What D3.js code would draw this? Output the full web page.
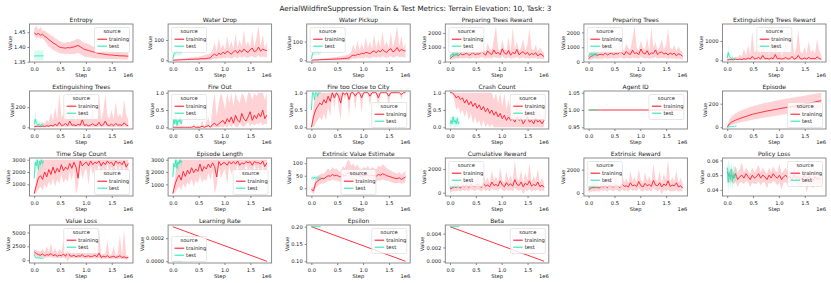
<!DOCTYPE html>
<html lang="en">
<head>
<meta charset="UTF-8" />
<title>AerialWildfireSuppression Train & Test Metrics</title>
<script src="https://cdn.jsdelivr.net/npm/d3@7"></script>
<style>
  body { margin: 0; background: #fff; }
  svg text { font-family: "DejaVu Sans", sans-serif; fill: #1a1a1a; }
</style>
</head>
<body>
<div id="chart"></div>
<script>
// steps: training runs 0 .. 1.82e6, test runs 0 .. 0.18e6
const TRAIN_END = 1.82e6, TEST_END = 0.18e6;
const xTicks = [0, 0.5e6, 1.0e6, 1.5e6];

// Entropy
const entropyTrain = [1.448,1.442,1.446,1.440,1.443,1.436,1.432,1.425,1.420,1.414,1.410,1.405,1.400,1.398,1.397,1.396,1.398,1.397,1.399,1.400,1.403,1.405,1.401,1.396,1.392,1.390,1.388,1.386,1.384,1.382,1.380,1.378,1.377,1.376,1.375,1.374,1.373,1.373,1.372,1.371,1.371,1.370,1.370,1.370,1.369,1.369];
const entropyTrainLo = [1.438,1.430,1.434,1.428,1.430,1.420,1.412,1.402,1.396,1.390,1.386,1.382,1.380,1.378,1.377,1.376,1.376,1.375,1.376,1.376,1.378,1.380,1.376,1.372,1.368,1.366,1.365,1.364,1.363,1.362,1.361,1.361,1.360,1.360,1.360,1.359,1.359,1.359,1.359,1.359,1.359,1.358,1.358,1.358,1.358,1.358];
const entropyTrainHi = [1.462,1.472,1.458,1.468,1.456,1.455,1.450,1.446,1.440,1.436,1.430,1.426,1.420,1.416,1.414,1.414,1.418,1.416,1.420,1.422,1.426,1.428,1.424,1.418,1.414,1.412,1.410,1.406,1.402,1.399,1.396,1.393,1.391,1.389,1.388,1.387,1.386,1.385,1.384,1.383,1.382,1.382,1.381,1.381,1.380,1.380];
const entropyTest = [1.370,1.370,1.370,1.370,1.370,1.370,1.370,1.370,1.370,1.370];
const entropyTestLo = [1.355,1.355,1.355,1.355,1.355,1.355,1.355,1.355,1.355,1.355];
const entropyTestHi = [1.388,1.388,1.388,1.388,1.388,1.388,1.388,1.388,1.388,1.388];
const entropyTicks = [1.35, 1.40, 1.45];

// Water Drop
const wdTrain = [0,1,1,2,2,3,3,4,4,5,5,6,5,7,8,7,9,10,12,25,30,22,35,28,40,32,45,38,30,42,48,35,50,40,55,45,38,52,60,42,48,65,45,55,50,48];
const wdTrainLo = [0,0,0,0,0,0,0,0,0,0,0,0,0,0,0,0,0,0,0,5,8,5,10,8,12,10,15,12,8,14,16,10,18,12,20,15,10,18,22,12,15,25,14,18,16,14];
const wdTrainHi = [2,4,5,6,7,8,9,10,12,15,14,18,16,20,22,25,28,30,35,50,90,45,110,55,80,50,120,60,95,55,130,60,100,65,150,70,95,60,140,65,110,170,70,125,60,90];
const wdTest = [5,30,40,35,45,38,42,36,44,40];
const wdTestLo = [0,15,25,20,30,22,28,20,30,25];
const wdTestHi = [10,45,55,50,60,52,56,50,58,55];
const wdTicks = [0, 100];

// Water Pickup
const wpTrain = [0,1,2,2,3,3,4,4,5,5,6,6,7,7,8,9,10,11,12,22,28,25,32,30,38,35,42,40,35,45,50,40,52,45,58,48,42,55,62,45,52,68,48,58,52,50];
const wpTrainLo = [0,0,0,0,0,0,0,0,0,0,0,0,0,0,0,0,0,0,0,6,9,7,11,9,13,11,16,13,10,15,17,12,19,14,21,16,12,19,23,13,16,26,15,19,17,15];
const wpTrainHi = [2,4,5,6,7,8,9,10,12,14,15,16,18,20,22,24,26,28,32,45,85,50,105,55,90,60,125,65,100,60,140,65,110,70,155,75,100,65,150,70,115,185,75,130,65,95];
const wpTest = [8,35,45,40,48,42,45,40,46,44];
const wpTestLo = [0,20,30,25,32,28,30,26,32,30];
const wpTestHi = [15,50,60,55,62,58,60,55,62,58];
const wpTicks = [0, 100];

// Preparing Trees Reward
const ptrTrain = [200,350,450,500,420,550,480,520,600,450,500,650,480,550,520,700,600,450,750,580,500,820,550,650,480,900,600,520,780,450,650,550,850,480,600,700,520,650,450,580,500,620,400,550,480,350];
const ptrTrainLo = [100,150,200,250,200,250,220,240,280,200,230,300,220,250,240,320,280,200,300,260,220,350,250,280,220,380,260,230,320,200,280,240,350,210,260,300,230,280,200,250,220,260,180,230,200,150];
const ptrTrainHi = [400,600,700,800,650,900,750,850,1000,700,800,1300,750,1000,800,1500,900,700,1300,900,800,1600,2500,900,750,1500,900,800,1700,700,2400,900,1400,750,1000,1600,800,1200,2300,900,800,1200,700,1000,750,600];
const ptrTest = [300,500,450,600,400,550,480,620,450,500];
const ptrTestLo = [100,300,250,350,200,300,250,380,250,300];
const ptrTestHi = [500,700,650,850,600,750,700,800,650,700];
const ptrTicks = [0, 1000, 2000];

// Preparing Trees
const ptTrain = [220,380,430,520,450,500,520,480,620,470,560,600,500,580,540,680,620,480,720,560,520,800,580,620,500,880,620,540,760,480,620,580,820,500,640,680,540,620,470,600,520,600,420,560,500,380];
const ptTrainLo = [120,160,190,260,210,240,230,230,290,210,240,290,230,260,250,310,290,210,290,270,230,340,260,270,230,370,270,240,310,210,270,250,340,220,270,290,240,270,210,260,230,250,190,240,210,160];
const ptTrainHi = [450,650,700,850,700,850,800,800,1050,750,850,1250,800,1050,850,1450,950,750,1250,950,850,1550,2450,950,800,1450,950,850,1650,750,2350,950,1350,800,1050,1550,850,1150,2250,950,850,1150,750,1050,800,650];
const ptTest = [350,550,500,620,420,580,500,600,480,520];
const ptTestLo = [150,320,280,380,220,330,280,360,260,320];
const ptTestHi = [550,750,700,850,620,780,720,820,680,720];
const ptTicks = [0, 1000, 2000];

// Extinguishing Trees Reward
const etrTrain = [20,30,40,25,50,35,60,40,80,50,120,60,200,70,90,150,60,250,80,100,60,120,80,300,70,100,60,90,140,70,80,200,60,100,250,80,70,120,60,150,80,100,70,180,90,60];
const etrTrainLo = [0,0,5,0,10,5,10,5,15,5,20,10,20,10,15,20,10,25,10,15,10,20,10,25,10,15,10,15,20,10,10,25,10,15,25,10,10,15,10,20,10,15,10,20,15,10];
const etrTrainHi = [60,100,120,80,200,150,300,200,600,250,800,300,1500,400,500,900,300,1200,400,600,300,700,400,1790,350,500,300,450,900,350,400,1300,300,600,1600,450,350,700,300,1000,400,550,350,1100,500,300];
const etrTest = [100,400,200,150,100,120,80,90,60,70];
const etrTestLo = [0,100,50,30,20,30,10,20,10,10];
const etrTestHi = [200,800,400,300,200,250,180,200,150,150];
const etrTicks = [0, 1000];

// Extinguishing Trees
const etTrain = [5,8,10,6,12,8,15,10,20,12,30,15,50,18,22,38,15,62,20,25,15,30,20,75,18,25,15,22,35,18,20,50,15,25,62,20,18,30,15,38,20,25,18,45,22,15];
const etTrainLo = [0,0,2,0,2,0,3,0,5,2,5,3,8,3,4,6,3,10,4,5,3,6,4,12,3,5,3,4,6,3,4,8,3,5,10,4,3,6,3,6,4,5,3,7,4,3];
const etTrainHi = [15,25,30,20,50,38,75,50,150,62,200,75,343,100,125,225,75,300,100,150,75,175,100,340,88,125,75,112,225,88,100,325,75,150,330,112,88,175,75,250,100,138,88,275,125,75];
const etTest = [30,80,40,30,25,30,20,25,15,18];
const etTestLo = [0,20,10,5,5,5,0,5,0,0];
const etTestHi = [60,170,100,70,60,65,50,55,40,45];
const etTicks = [0, 200];

// Fire Out
const foTrain = [0,0,0,0,0,0,0,0,0,0,0.02,0,0,0,0.03,0,0.02,0.05,0,0.08,0.12,0.05,0.1,0.15,0.2,0.1,0.25,0.15,0.3,0.12,0.35,0.2,0.15,0.4,0.25,0.18,0.3,0.45,0.2,0.35,0.25,0.4,0.3,0.5,0.25,0.35];
const foTrainLo = [0,0,0,0,0,0,0,0,0,0,0,0,0,0,0,0,0,0,0,0,0,0,0,0.02,0,0.05,0,0.08,0,0.1,0.02,0,0.12,0.05,0,0.08,0.15,0.02,0.1,0.05,0.12,0.08,0.15,0.05,0.1,0.08];
const foTrainHi = [0,0,0,0,0,0,0,0,0,0,0.1,0,0.05,0,0.2,0,0.15,0.3,0,0.6,1.0,0.3,0.7,1.0,0.8,0.5,1.0,0.7,1.0,0.6,1.0,0.8,0.7,1.0,0.9,0.7,1.0,1.0,0.8,1.0,0.9,1.0,1.0,1.0,0.8,1.0];
const foTest = [0,0.25,0.1,0.3,0.05,0.2,0.15,0.3,0.1,0.2];
const foTestLo = [0,0.1,0,0.15,0,0.05,0,0.1,0,0.05];
const foTestHi = [0,0.35,0.3,0.35,0.2,0.35,0.3,0.35,0.25,0.3];
const foTicks = [0, 0.5, 1.0];

// Fire too Close to City
const fcTrain = [0,0.3,0.5,0.6,0.7,0.65,0.8,0.7,0.9,0.75,1,0.85,1,0.9,0.7,1,0.95,1,0.8,1,1,0.9,1,1,0.85,1,1,1,0.9,1,1,1,0.85,1,1,1,1,0.9,1,1,1,1,1,0.95,1,1];
const fcTrainLo = [0,0,0.1,0.2,0.3,0.2,0.4,0.2,0.6,0.3,1,0.5,1,0.6,0.2,1,0.8,1,0.3,1,1,0.5,1,1,0.4,1,1,1,0.6,1,1,1,0.5,1,1,1,1,0.6,1,1,1,1,1,0.8,1,1];
const fcTrainHi = [0,0.6,0.9,1,1,1,1,1,1,1,1,1,1,1,1,1,1,1,1,1,1,1,1,1,1,1,1,1,1,1,1,1,1,1,1,1,1,1,1,1,1,1,1,1,1,1];
const fcTest = [0.5,1,1,0.8,1,1,0.9,1,1,1];
const fcTestLo = [0.5,1,1,0.6,1,1,0.8,1,1,1];
const fcTestHi = [0.5,1,1,1,1,1,1,1,1,1];
const fcTicks = [0, 0.5, 1.0];

// Crash Count
const ccTrain = [1,1,0.95,0.85,0.9,0.8,0.85,0.7,0.8,0.65,0.75,0.6,0.7,0.55,0.65,0.5,0.6,0.45,0.55,0.4,0.5,0.35,0.45,0.3,0.4,0.25,0.35,0.2,0.3,0.2,0.25,0.15,0.3,0.2,0.25,0.1,0.2,0.3,0.15,0.2,0.1,0.25,0.15,0.2,0.1,0.2];
const ccTrainLo = [1,1,0.8,0.5,0.6,0.4,0.5,0.3,0.5,0.2,0.4,0.1,0.3,0.1,0.2,0,0.2,0,0.1,0,0.1,0,0,0,0,0,0,0,0,0,0,0,0,0,0,0,0,0,0,0,0,0,0,0,0,0];
const ccTrainHi = [1,1,1,1,1,1,1,1,1,1,1,1,1,1,1,1,1,1,1,1,1,0.8,1,0.7,1,0.6,1,0.5,0.8,0.5,0.6,0.4,0.8,0.5,0.6,0.3,0.5,0.8,0.4,0.5,0.3,0.6,0.4,0.5,0.3,0.5];
const ccTest = [0.1,0.2,0.1,0.3,0.15,0.2,0.1,0.25,0.1,0.15];
const ccTestLo = [0,0,0,0.1,0,0,0,0.05,0,0];
const ccTestHi = [0.3,0.3,0.3,0.33,0.3,0.33,0.3,0.33,0.3,0.3];
const ccTicks = [0, 0.5, 1.0];

// Agent ID
const aiTrain = [1, 1];
const aiTest = [1, 1];
const aiTicks = [0.95, 1.0, 1.05];
const aiDomain = [0.945, 1.055];

// Episode
const epTrain = [0,28,42,52,60,67,74,80,86,92,98,104,110,114,118,122,126,130,134,138,141,144,148,151,154,158,161,164,167,170,173,176,179,182,185,188,191,197,200,203,206,210,214,218,222,226];
const epTrainLo = [0,10,18,25,30,35,40,44,48,52,56,60,64,67,70,73,76,79,82,85,88,91,94,97,100,103,106,109,112,115,118,121,124,127,130,133,136,139,142,145,148,151,154,157,160,163];
const epTrainHi = [0,65,90,105,118,128,137,145,152,159,165,171,177,182,187,192,197,201,205,209,213,217,221,225,229,232,235,238,241,244,247,250,253,256,259,262,265,268,271,274,277,280,284,287,290,293];
const epTest = [0,2,4,5,6,7,8,9,10,10];
const epTestLo = [0,1,3,4,5,6,7,8,9,9];
const epTestHi = [0,3,5,6,7,8,9,10,11,11];
const epTicks = [0, 200];

// Time Step Count
const tsTrain = [250,900,1500,1700,1400,2000,1600,2200,1800,2400,1900,2300,2000,2600,2100,2400,2200,2700,2300,2800,2400,1500,2900,2500,2700,2800,2500,2900,2600,2800,2700,2900,2500,2800,2600,2900,2700,2800,2500,2900,2700,2800,2600,2900,2400,2700];
const tsTrainLo = [190,300,600,800,500,1000,700,1200,900,1500,800,1400,1000,1800,1100,1500,1200,2000,1300,2200,200,900,2500,1400,2000,2300,900,2600,1800,2300,2000,2700,1500,2400,1800,2700,2000,2400,1500,2700,2000,2500,1800,2700,1500,2200];
const tsTrainHi = [300,1500,2500,3000,3000,3000,3000,3000,3000,3000,3000,3000,3000,3000,3000,3000,3000,3000,3000,3000,3000,3000,3000,3000,3000,3000,3000,3000,3000,3000,3000,3000,3000,3000,3000,3000,3000,3000,3000,3000,3000,3000,3000,3000,3000,3000];
const tsTest = [1500,2800,2500,3000,2200,2900,2600,3000,2700,2900];
const tsTestLo = [1400,2000,1800,2700,1500,2500,2000,2800,2200,2600];
const tsTestHi = [1600,3000,3000,3000,3000,3000,3000,3000,3000,3000];
const tsTicks = [1000, 2000, 3000];

// Episode Length
const elTrain = [260,950,1450,1750,1350,2050,1650,2150,1850,2350,1950,2250,2050,2650,2050,2450,2250,2650,2350,2750,2450,1600,2850,2550,2750,2750,2550,2850,2650,2850,2650,2900,2550,2750,2650,2850,2750,2850,2550,2850,2750,2750,2650,2900,2450,2750];
const elTrainLo = [200,320,580,850,520,1050,720,1150,950,1450,820,1350,1050,1750,1150,1450,1250,1950,1350,2150,250,900,2450,1450,1950,2250,950,2550,1850,2250,2050,2650,1550,2350,1850,2650,2050,2350,1550,2650,2050,2450,1850,2650,1550,2250];
const elTrainHi = [350,1600,2600,3000,3000,3000,3000,3000,3000,3000,3000,3000,3000,3000,3000,3000,3000,3000,3000,3000,3000,3000,3000,3000,3000,3000,3000,3000,3000,3000,3000,3000,3000,3000,3000,3000,3000,3000,3000,3000,3000,3000,3000,3000,3000,3000];
const elTest = [1600,2700,2400,3000,2300,2850,2650,3000,2750,2900];
const elTestLo = [1400,1900,1700,2700,1500,2400,2000,2800,2200,2600];
const elTestHi = [1700,3000,3000,3000,3000,3000,3000,3000,3000,3000];
const elTicks = [1000, 2000, 3000];

// Extrinsic Value Estimate
const eveTrain = [-5,-10,20,30,35,40,38,45,50,48,55,50,52,48,45,55,50,58,62,55,60,52,56,50,48,52,50,54,48,52,50,48,55,52,58,55,50,48,45,42,40,38,42,35,40,45];
const eveTrainLo = [-15,-24,0,10,15,20,18,25,30,28,35,30,32,28,25,30,30,35,38,32,35,30,32,30,28,30,30,32,28,30,30,28,32,30,35,32,30,28,25,22,20,20,22,18,20,25];
const eveTrainHi = [5,5,40,50,55,60,58,70,80,70,85,75,80,70,65,90,80,105,114,90,100,85,95,80,75,85,80,90,75,85,80,75,90,85,95,90,80,75,70,65,62,58,65,55,62,70];
const eveTest = [40,42,38,45,40,43,39,42,40,41];
const eveTestLo = [30,35,30,38,32,36,30,35,32,34];
const eveTestHi = [50,50,48,52,50,50,48,50,48,49];
const eveTicks = [0, 50, 100];

// Cumulative Reward
const crTrain = [300,400,500,450,550,400,600,500,650,450,700,550,500,750,600,450,800,550,650,500,900,600,700,550,1000,650,500,850,600,750,550,1100,700,600,900,500,800,650,1000,550,700,600,900,500,650,450];
const crTrainLo = [0,100,150,100,200,100,250,150,250,100,300,200,150,300,200,100,300,150,250,100,350,200,250,150,400,200,100,300,150,250,100,400,250,150,300,-130,250,150,300,100,200,150,300,100,200,100];
const crTrainHi = [600,700,900,750,1000,700,1100,800,1200,750,1400,900,800,1500,1000,750,1700,900,1300,800,1900,1000,1400,900,2100,1100,850,1800,1000,1500,900,2780,1200,1000,1900,850,1700,1100,2500,900,1400,1000,2000,850,1300,800];
const crTest = [400,550,450,600,500,700,450,650,550,600];
const crTestLo = [200,350,250,400,300,450,250,400,350,400];
const crTestHi = [600,750,650,850,700,900,650,850,750,800];
const crTicks = [0, 2000];

// Extrinsic Reward
const erTrain = [280,420,480,470,530,420,580,520,630,470,680,570,520,730,620,470,780,570,630,520,880,620,680,570,980,630,520,830,620,730,570,1080,680,620,880,520,780,630,1050,570,680,620,880,520,630,430];
const erTrainLo = [0,120,160,120,210,120,260,160,260,120,310,210,160,310,210,120,310,160,260,120,360,210,260,160,410,210,120,310,160,260,120,410,260,160,310,-100,260,160,310,120,210,160,310,120,210,120];
const erTrainHi = [580,720,880,770,980,720,1080,820,1180,770,1380,920,820,1480,1020,770,1680,920,1280,820,1880,1020,1380,920,2050,1120,870,1780,1020,1480,920,2500,1180,1020,1880,870,1680,1120,2850,920,1380,1020,1950,870,1280,820];
const erTest = [420,560,460,620,520,680,470,640,560,610];
const erTestLo = [220,360,260,420,320,440,270,410,360,410];
const erTestHi = [620,760,660,860,720,880,670,860,760,810];
const erTicks = [0, 2000];

// Policy Loss
const plTrain = [0.052,0.049,0.050,0.048,0.051,0.047,0.049,0.050,0.048,0.051,0.049,0.047,0.050,0.048,0.049,0.051,0.048,0.050,0.049,0.047,0.050,0.048,0.051,0.049,0.048,0.050,0.047,0.049,0.050,0.048,0.049,0.047,0.050,0.048,0.049,0.047,0.048,0.050,0.047,0.049,0.048,0.046,0.049,0.047,0.048,0.047];
const plTrainLo = [0.046,0.045,0.045,0.044,0.046,0.042,0.045,0.045,0.044,0.046,0.045,0.042,0.045,0.044,0.044,0.046,0.043,0.045,0.045,0.041,0.045,0.044,0.046,0.045,0.043,0.045,0.040,0.045,0.045,0.044,0.045,0.042,0.045,0.044,0.044,0.042,0.043,0.045,0.038,0.044,0.043,0.041,0.044,0.042,0.043,0.042];
const plTrainHi = [0.056,0.053,0.055,0.052,0.056,0.052,0.054,0.059,0.052,0.055,0.053,0.051,0.055,0.052,0.054,0.057,0.052,0.055,0.053,0.051,0.055,0.052,0.056,0.053,0.052,0.058,0.051,0.053,0.055,0.052,0.053,0.051,0.055,0.052,0.054,0.051,0.052,0.055,0.051,0.054,0.052,0.050,0.054,0.051,0.053,0.051];
const plTest = [0.055,0.045,0.052,0.047,0.054,0.046,0.051,0.048,0.050,0.049];
const plTestLo = [0.045,0.037,0.044,0.041,0.046,0.040,0.045,0.043,0.045,0.044];
const plTestHi = [0.056,0.0605,0.058,0.055,0.059,0.054,0.057,0.055,0.056,0.055];
const plTicks = [0.04, 0.05, 0.06];

// Value Loss
const vlTrain = [1500,1200,1000,900,1100,800,1000,900,1200,800,1000,700,900,800,1100,700,1600,800,700,900,600,800,700,1000,600,700,800,600,700,900,600,1300,500,700,600,800,500,600,700,500,600,800,500,600,400,500];
const vlTrainLo = [1000,800,600,500,600,400,500,500,600,400,500,350,450,400,500,350,-200,400,350,400,300,350,300,400,250,300,350,250,300,350,250,400,200,250,200,300,200,200,250,150,200,250,150,200,100,150];
const vlTrainHi = [2000,1800,1600,1500,2000,1400,2500,1500,3000,1300,2200,1200,2000,1500,3500,1200,6030,1500,1200,2500,1100,2000,1300,4000,1100,1200,2500,1000,1300,3000,1000,5500,900,1200,1100,3500,900,1000,2500,900,1100,4500,900,5500,800,900];
const vlTest = [1000,600,400,500,350,450,300,400,350,300];
const vlTestLo = [500,300,200,250,150,200,100,200,150,100];
const vlTestHi = [1500,1000,700,800,600,700,500,650,550,500];
const vlTicks = [0, 2500, 5000];

// Learning Rate, Epsilon, Beta (linear schedules)
const lrTrain = [0.0003, 0.0];
const lrTest = [0.0, 0.0];
const lrTicks = [0, 0.0002];
const epsTrain = [0.2, 0.1];
const epsTest = [0.2, 0.2];
const epsTicks = [0.10, 0.15, 0.20];
const betaTrain = [0.005, 0.0];
const betaTest = [0.005, 0.005];
const betaTicks = [0, 0.002, 0.004];

const panels = [
  { title: "Entropy", tr: entropyTrain, trLo: entropyTrainLo, trHi: entropyTrainHi, te: entropyTest, teLo: entropyTestLo, teHi: entropyTestHi, ticks: entropyTicks, fmt: ".2f", legend: "ur" },
  { title: "Water Drop", tr: wdTrain, trLo: wdTrainLo, trHi: wdTrainHi, te: wdTest, teLo: wdTestLo, teHi: wdTestHi, ticks: wdTicks, fmt: "d", legend: "ul" },
  { title: "Water Pickup", tr: wpTrain, trLo: wpTrainLo, trHi: wpTrainHi, te: wpTest, teLo: wpTestLo, teHi: wpTestHi, ticks: wpTicks, fmt: "d", legend: "ul" },
  { title: "Preparing Trees Reward", tr: ptrTrain, trLo: ptrTrainLo, trHi: ptrTrainHi, te: ptrTest, teLo: ptrTestLo, teHi: ptrTestHi, ticks: ptrTicks, fmt: "d", legend: "ul" },
  { title: "Preparing Trees", tr: ptTrain, trLo: ptTrainLo, trHi: ptTrainHi, te: ptTest, teLo: ptTestLo, teHi: ptTestHi, ticks: ptTicks, fmt: "d", legend: "ul" },
  { title: "Extinguishing Trees Reward", tr: etrTrain, trLo: etrTrainLo, trHi: etrTrainHi, te: etrTest, teLo: etrTestLo, teHi: etrTestHi, ticks: etrTicks, fmt: "d", legend: "uc" },
  { title: "Extinguishing Trees", tr: etTrain, trLo: etTrainLo, trHi: etTrainHi, te: etTest, teLo: etTestLo, teHi: etTestHi, ticks: etTicks, fmt: "d", legend: "uc" },
  { title: "Fire Out", tr: foTrain, trLo: foTrainLo, trHi: foTrainHi, te: foTest, teLo: foTestLo, teHi: foTestHi, ticks: foTicks, fmt: ".1f", legend: "ul" },
  { title: "Fire too Close to City", tr: fcTrain, trLo: fcTrainLo, trHi: fcTrainHi, te: fcTest, teLo: fcTestLo, teHi: fcTestHi, ticks: fcTicks, fmt: ".1f", legend: "br" },
  { title: "Crash Count", tr: ccTrain, trLo: ccTrainLo, trHi: ccTrainHi, te: ccTest, teLo: ccTestLo, teHi: ccTestHi, ticks: ccTicks, fmt: ".1f", legend: "ur" },
  { title: "Agent ID", tr: aiTrain, trLo: aiTrain, trHi: aiTrain, te: aiTest, teLo: aiTest, teHi: aiTest, ticks: aiTicks, fmt: ".2f", legend: "ur", domain: aiDomain },
  { title: "Episode", tr: epTrain, trLo: epTrainLo, trHi: epTrainHi, te: epTest, teLo: epTestLo, teHi: epTestHi, ticks: epTicks, fmt: "d", legend: "br" },
  { title: "Time Step Count", tr: tsTrain, trLo: tsTrainLo, trHi: tsTrainHi, te: tsTest, teLo: tsTestLo, teHi: tsTestHi, ticks: tsTicks, fmt: "d", legend: "br" },
  { title: "Episode Length", tr: elTrain, trLo: elTrainLo, trHi: elTrainHi, te: elTest, teLo: elTestLo, teHi: elTestHi, ticks: elTicks, fmt: "d", legend: "br" },
  { title: "Extrinsic Value Estimate", tr: eveTrain, trLo: eveTrainLo, trHi: eveTrainHi, te: eveTest, teLo: eveTestLo, teHi: eveTestHi, ticks: eveTicks, fmt: "d", legend: "bc" },
  { title: "Cumulative Reward", tr: crTrain, trLo: crTrainLo, trHi: crTrainHi, te: crTest, teLo: crTestLo, teHi: crTestHi, ticks: crTicks, fmt: "d", legend: "ul" },
  { title: "Extrinsic Reward", tr: erTrain, trLo: erTrainLo, trHi: erTrainHi, te: erTest, teLo: erTestLo, teHi: erTestHi, ticks: erTicks, fmt: "d", legend: "ul" },
  { title: "Policy Loss", tr: plTrain, trLo: plTrainLo, trHi: plTrainHi, te: plTest, teLo: plTestLo, teHi: plTestHi, ticks: plTicks, fmt: ".2f", legend: "ur" },
  { title: "Value Loss", tr: vlTrain, trLo: vlTrainLo, trHi: vlTrainHi, te: vlTest, teLo: vlTestLo, teHi: vlTestHi, ticks: vlTicks, fmt: "d", legend: "uc" },
  { title: "Learning Rate", tr: lrTrain, trLo: lrTrain, trHi: lrTrain, te: lrTest, teLo: lrTest, teHi: lrTest, ticks: lrTicks, fmt: ".4f", legend: "bl" },
  { title: "Epsilon", tr: epsTrain, trLo: epsTrain, trHi: epsTrain, te: epsTest, teLo: epsTest, teHi: epsTest, ticks: epsTicks, fmt: ".2f", legend: "ur" },
  { title: "Beta", tr: betaTrain, trLo: betaTrain, trHi: betaTrain, te: betaTest, teLo: betaTest, teHi: betaTest, ticks: betaTicks, fmt: ".3f", legend: "ur" }
];

const TRAIN_COLOR = "#ff1c2c", TEST_COLOR = "#30e6b4";

const W = 831, H = 283;
const svg = d3.select("#chart").append("svg").attr("width", W).attr("height", H);

svg.append("text")
  .attr("x", W / 2).attr("y", 10.5)
  .attr("text-anchor", "middle")
  .style("font-size", "7.2px")
  .text("AerialWildfireSuppression Train & Test Metrics: Terrain Elevation: 10, Task: 3");

const cols = 6, left0 = 29.5, colStep = 138.6, pw = 103.5;
const top0 = 24, rowStep = 67, ph = 38;

// points spread evenly over the run
const toPts = (vals, end) => vals.map((v, i) => [end * i / (vals.length - 1), v]);
const toBand = (lo, hi, end) => lo.map((v, i) => [end * i / (lo.length - 1), v, hi[i]]);

panels.forEach((p, k) => {
  const r = Math.floor(k / cols), c = k % cols;
  const g = svg.append("g")
    .attr("transform", `translate(${left0 + c * colStep},${top0 + r * rowStep})`);

  const x = d3.scaleLinear().domain([-0.091e6, 1.911e6]).range([0, pw]);
  let dom = p.domain;
  if (!dom) {
    const [lo, hi] = d3.extent([].concat(p.tr, p.trLo, p.trHi, p.te, p.teLo, p.teHi));
    const pad = (hi - lo) * 0.05;
    dom = [lo - pad, hi + pad];
  }
  const y = d3.scaleLinear().domain(dom).range([ph, 0]);

  const area = d3.area().x(d => x(d[0])).y0(d => y(d[1])).y1(d => y(d[2]));
  const line = d3.line().x(d => x(d[0])).y(d => y(d[1]));

  // training then test
  [[p.tr, p.trLo, p.trHi, TRAIN_END, TRAIN_COLOR], [p.te, p.teLo, p.teHi, TEST_END, TEST_COLOR]]
    .forEach(([m, lo, hi, end, col]) => {
      g.append("path").datum(toBand(lo, hi, end))
        .attr("d", area).attr("fill", col).attr("fill-opacity", 0.2).attr("stroke", "none");
      g.append("path").datum(toPts(m, end))
        .attr("d", line).attr("fill", "none").attr("stroke", col).attr("stroke-width", 0.9);
    });

  // axes
  const xAxis = g.append("g").attr("transform", `translate(0,${ph})`)
    .call(d3.axisBottom(x).tickValues(xTicks).tickFormat(d => (d / 1e6).toFixed(1)).tickSize(2).tickPadding(3.5));
  const yAxis = g.append("g")
    .call(d3.axisLeft(y).tickValues(p.ticks).tickFormat(d3.format(p.fmt)).tickSize(2).tickPadding(2));
  [xAxis, yAxis].forEach(a => {
    a.attr("font-size", 5.2).attr("font-family", "DejaVu Sans");
    a.select(".domain").remove();
    a.selectAll(".tick line").attr("stroke", "#333").attr("stroke-width", 0.6);
    a.selectAll(".tick text").attr("fill", "#1a1a1a");
  });

  g.append("rect").attr("width", pw).attr("height", ph)
    .attr("fill", "none").attr("stroke", "#808080").attr("stroke-width", 0.9);

  g.append("text").attr("x", pw / 2).attr("y", -2.5).attr("text-anchor", "middle")
    .style("font-size", "6px").text(p.title);

  g.append("text").attr("x", pw / 2).attr("y", ph + 14.5).attr("text-anchor", "middle")
    .style("font-size", "5.2px").text("Step");
  g.append("text").attr("x", pw).attr("y", ph + 14.5).attr("text-anchor", "end")
    .style("font-size", "5.2px").text("1e6");

  let maxW = 0;
  yAxis.selectAll(".tick text").each(function () { maxW = Math.max(maxW, this.getBBox().width); });
  g.append("text")
    .attr("transform", `translate(${-(4 + maxW + 1.8)},${ph / 2}) rotate(-90)`)
    .attr("text-anchor", "middle").style("font-size", "5.2px").text("Value");

  // legend
  const lw = 35, lh = 25;
  const v = p.legend[0], h = p.legend[1];
  const lx = h === "l" ? 3.5 : h === "r" ? pw - 3.5 - lw : (pw - lw) / 2;
  const ly = v === "u" ? 3.5 : ph - 1.5 - lh;
  const lg = g.append("g").attr("transform", `translate(${lx},${ly})`);
  lg.append("rect").attr("width", lw).attr("height", lh).attr("rx", 1.5)
    .attr("fill", "#fff").attr("fill-opacity", 0.8).attr("stroke", "#d6d6d6").attr("stroke-width", 0.6);
  lg.append("text").attr("x", lw / 2).attr("y", 5.8).attr("text-anchor", "middle")
    .style("font-size", "5.2px").text("source");
  [["training", TRAIN_COLOR, 11.7], ["test", TEST_COLOR, 18.7]].forEach(([name, col, yy]) => {
    lg.append("line").attr("x1", 3).attr("x2", 12.5).attr("y1", yy).attr("y2", yy)
      .attr("stroke", col).attr("stroke-width", 1.1);
    lg.append("text").attr("x", 14.5).attr("y", yy + 1.6).style("font-size", "5.2px").text(name);
  });
});
</script>
</body>
</html>
